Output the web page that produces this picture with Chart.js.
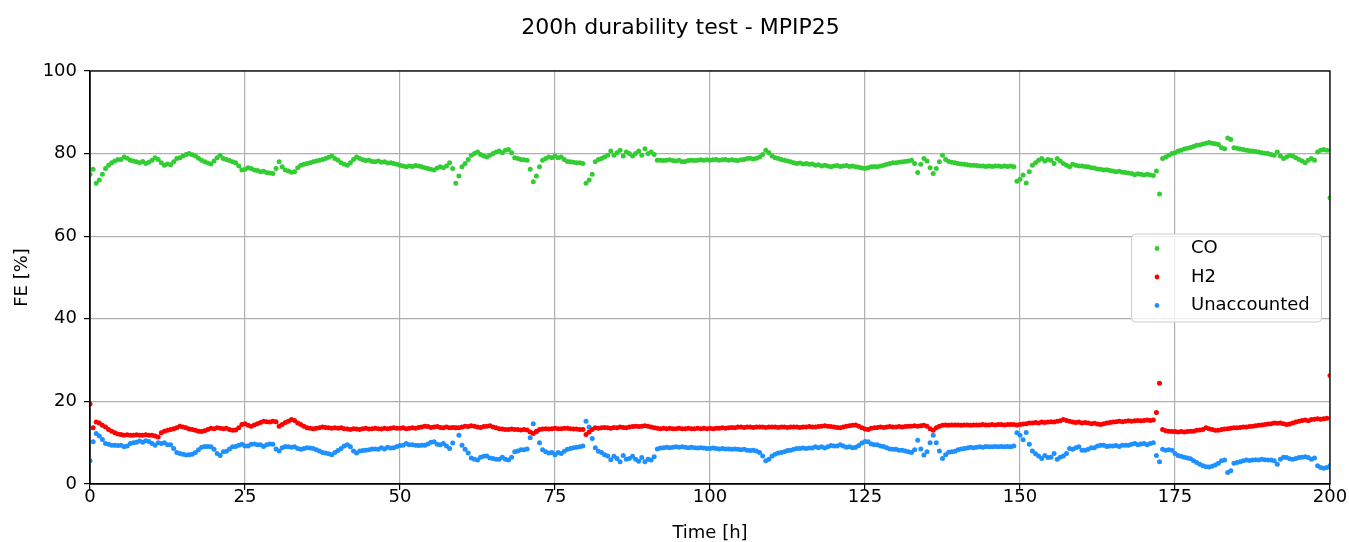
<!DOCTYPE html>
<html>
<head>
    <title>200h durability test - MPIP25</title>
    <meta charset="UTF-8">
    <script src="https://cdn.jsdelivr.net/npm/chart.js"></script>
    <style>
        html, body { margin: 0; padding: 0; background: #fff; }
    </style>
</head>
<body>
    <canvas id="feChart" width="1349" height="542"></canvas>

    <script>
        // Faradaic efficiency logged every half hour over the 200 h run
        const sampleStep = 0.5; // h

        const coValues = [
            75.0, 76.2, 72.8, 73.6, 75.0, 76.4, 77.2, 77.8, 78.2, 78.6, 78.6, 79.2, 78.9, 78.4, 78.2, 78.0, 77.8, 78.1, 77.6, 77.9,
            78.4, 79.0, 78.6, 77.8, 77.2, 77.5, 77.3, 78.0, 78.8, 79.0, 79.4, 79.8, 80.0, 79.7, 79.4, 78.9, 78.4, 78.0, 77.7, 77.5,
            78.2, 79.0, 79.6, 78.8, 78.6, 78.3, 78.0, 77.8, 77.0, 76.0, 76.2, 76.6, 76.4, 76.0, 75.9, 75.6, 75.7, 75.4, 75.3, 75.2,
            76.4, 78.0, 76.8, 76.0, 75.8, 75.5, 75.6, 76.6, 77.2, 77.4, 77.6, 77.8, 78.0, 78.2, 78.4, 78.6, 78.8, 79.1, 79.4, 78.8,
            78.4, 77.8, 77.4, 77.2, 77.8, 78.6, 79.2, 78.8, 78.5, 78.3, 78.4, 78.1, 78.0, 78.2, 77.9, 78.0, 77.7, 77.8, 77.6, 77.4,
            77.2, 77.0, 76.8, 77.0, 76.9, 77.1, 77.0, 76.8, 76.6, 76.4, 76.2, 76.0, 76.5, 76.8, 76.6, 77.0, 77.8, 76.4, 72.8, 74.6,
            76.8, 77.6, 78.6, 79.6, 80.0, 80.4, 79.8, 79.4, 79.2, 79.6, 80.0, 80.4, 80.6, 80.2, 80.8, 81.0, 80.2, 79.0, 78.8, 78.6,
            78.5, 78.4, 76.2, 73.2, 74.6, 76.8, 78.4, 78.8, 79.2, 79.0, 79.4, 79.0, 79.2, 78.6, 78.1, 78.0, 77.9, 77.8, 77.8, 77.6,
            72.8, 73.6, 75.0, 78.0, 78.6, 78.8, 79.2, 79.6, 80.6, 79.6, 80.2, 80.8, 79.4, 80.4, 80.0, 79.4, 80.0, 80.6, 79.6, 81.2,
            80.0, 80.4, 79.8, 78.4, 78.4, 78.3, 78.4, 78.5, 78.3, 78.2, 78.4, 78.0, 78.1, 78.3, 78.4, 78.3, 78.4, 78.5, 78.4, 78.5,
            78.4, 78.5, 78.6, 78.4, 78.5, 78.6, 78.4, 78.5, 78.4, 78.3, 78.5, 78.6, 78.8, 78.9, 78.7, 78.9, 79.2, 79.8, 80.8, 80.2,
            79.4, 79.0, 78.8, 78.6, 78.4, 78.2, 78.0, 77.8, 77.6, 77.7, 77.5, 77.6, 77.4, 77.5, 77.2, 77.3, 77.0, 77.2, 77.0, 76.8,
            77.0, 77.1, 76.9, 77.0, 77.1, 76.9, 77.0, 76.8, 76.7, 76.5, 76.4, 76.6, 76.8, 76.9, 76.8, 77.0, 77.2, 77.4, 77.6, 77.8,
            77.8, 77.9, 78.0, 78.1, 78.2, 78.4, 77.6, 75.4, 77.4, 78.8, 78.2, 76.6, 75.2, 76.4, 78.0, 79.6, 78.6, 78.1, 77.9, 77.8,
            77.6, 77.5, 77.4, 77.3, 77.2, 77.2, 77.1, 77.0, 77.0, 76.9, 77.0, 76.9, 77.0, 77.0, 76.9, 77.0, 76.9, 77.0, 76.8, 73.3,
            73.8, 74.8, 72.9, 75.6, 77.2, 77.8, 78.4, 78.8, 78.2, 78.6, 78.4, 77.6, 78.8, 78.2, 77.6, 77.2, 76.8, 77.4, 77.2, 77.0,
            77.0, 76.9, 76.8, 76.6, 76.5, 76.3, 76.2, 76.0, 76.1, 75.9, 75.8, 75.6, 75.7, 75.5, 75.4, 75.3, 75.2, 74.9, 75.1, 75.0,
            74.8, 75.0, 74.8, 74.7, 75.8, 70.2, 78.8, 79.2, 79.6, 80.0, 80.2, 80.6, 80.8, 81.1, 81.3, 81.5, 81.7, 82.0, 82.1, 82.3,
            82.5, 82.7, 82.5, 82.4, 82.2, 81.4, 81.2, 83.8, 83.4, 81.4, 81.3, 81.1, 81.0, 80.8, 80.7, 80.6, 80.5, 80.4, 80.2, 80.1,
            80.0, 79.8, 79.6, 80.4, 79.4, 78.8, 79.2, 79.6, 79.4, 79.0, 78.6, 78.2, 77.8, 78.4, 78.8, 78.4, 80.4, 80.8, 81.0, 80.8,
            69.3
        ];

        const h2Values = [
            19.4, 13.6, 15.0, 14.8, 14.2, 13.8, 13.2, 12.8, 12.4, 12.1, 12.0, 11.8, 11.9, 11.8, 11.8, 11.9, 11.8, 11.8, 11.9, 11.8,
            11.8, 11.6, 11.4, 12.4, 12.8, 13.0, 13.2, 13.4, 13.6, 14.0, 13.8, 13.6, 13.3, 13.2, 13.0, 12.8, 12.7, 12.9, 13.2, 13.5,
            13.4, 13.6, 13.5, 13.4, 13.5, 13.2, 13.0, 13.1, 13.6, 14.4, 14.6, 14.2, 14.0, 14.3, 14.6, 14.9, 15.2, 15.1, 15.0, 15.2,
            15.1, 14.0, 14.4, 14.9, 15.2, 15.6, 15.4, 14.8, 14.4, 14.0, 13.6, 13.5, 13.4, 13.5, 13.6, 13.8, 13.7, 13.6, 13.5, 13.6,
            13.5, 13.6, 13.4, 13.3, 13.2, 13.4, 13.3, 13.2, 13.4, 13.5, 13.3, 13.4, 13.5, 13.4, 13.3, 13.5, 13.4, 13.5, 13.6, 13.5,
            13.5, 13.6, 13.4, 13.5, 13.6, 13.5, 13.7, 13.8, 14.0, 13.9, 13.7, 13.8, 13.9, 13.7, 13.6, 13.8, 13.6, 13.7, 13.6, 13.6,
            13.8, 14.0, 13.9, 14.1, 14.0, 13.8, 13.7, 13.9, 14.0, 14.1, 13.8, 13.6, 13.4, 13.3, 13.2, 13.2, 13.3, 13.2, 13.2, 13.1,
            13.2, 13.1, 12.6, 12.2, 12.8, 13.2, 13.3, 13.4, 13.3, 13.4, 13.5, 13.4, 13.4, 13.5, 13.5, 13.4, 13.3, 13.3, 13.2, 13.2,
            12.0, 12.6, 13.2, 13.6, 13.5, 13.6, 13.7, 13.6, 13.5, 13.7, 13.6, 13.8, 13.7, 13.6, 13.8, 13.9, 14.0, 13.9, 14.0, 14.1,
            14.0, 13.8, 13.6, 13.5, 13.4, 13.5, 13.4, 13.5, 13.4, 13.4, 13.5, 13.4, 13.4, 13.5, 13.4, 13.4, 13.5, 13.4, 13.5, 13.4,
            13.5, 13.4, 13.5, 13.5, 13.6, 13.5, 13.6, 13.7, 13.6, 13.8, 13.8, 13.7, 13.8, 13.8, 13.7, 13.8, 13.8, 13.8, 13.7, 13.8,
            13.8, 13.8, 13.7, 13.8, 13.8, 13.7, 13.8, 13.8, 13.8, 13.7, 13.8, 13.8, 13.9, 13.8, 13.8, 13.9, 14.0, 14.1, 14.0, 13.9,
            13.8, 13.7, 13.6, 13.8, 14.0, 14.1, 14.2, 14.3, 14.0, 13.6, 13.3, 13.2, 13.5, 13.6, 13.7, 13.8, 13.7, 13.8, 13.9, 13.8,
            13.8, 13.9, 13.8, 13.9, 14.0, 14.0, 14.1, 14.0, 14.1, 14.2, 14.0, 13.4, 13.0, 13.6, 14.0, 14.2, 14.3, 14.2, 14.3, 14.3,
            14.3, 14.2, 14.3, 14.3, 14.2, 14.3, 14.3, 14.3, 14.4, 14.3, 14.3, 14.4, 14.3, 14.4, 14.4, 14.3, 14.4, 14.4, 14.4, 14.3,
            14.4, 14.5, 14.6, 14.8, 14.8, 14.9, 14.8, 15.0, 14.9, 15.0, 15.1, 15.0, 15.2, 15.3, 15.6, 15.4, 15.2, 15.0, 14.9, 15.0,
            14.8, 14.9, 14.8, 14.6, 14.7, 14.5, 14.4, 14.6, 14.8, 14.9, 15.0, 15.1, 15.2, 15.1, 15.2, 15.3, 15.2, 15.3, 15.4, 15.3,
            15.4, 15.5, 15.4, 15.5, 17.3, 24.4, 13.2, 12.9, 12.8, 12.7, 12.7, 12.6, 12.7, 12.6, 12.7, 12.8, 12.8, 13.0, 13.1, 13.2,
            13.6, 13.4, 13.2, 13.0, 13.0, 13.2, 13.3, 13.4, 13.5, 13.6, 13.6, 13.7, 13.8, 13.8, 13.9, 14.0, 14.1, 14.2, 14.3, 14.4,
            14.5, 14.6, 14.8, 14.7, 14.8, 14.6, 14.4, 14.5, 14.8, 15.0, 15.2, 15.4, 15.5, 15.3, 15.6, 15.7, 15.8, 15.7, 15.8, 15.9,
            26.3
        ];

        const unaccountedValues = [
            5.6, 10.2, 12.2, 11.6, 10.8, 9.8, 9.6, 9.4, 9.4, 9.3, 9.4, 9.0, 9.2, 9.8, 10.0, 10.1, 10.4, 10.1, 10.5, 10.3,
            9.8, 9.4, 10.0, 9.8, 10.0, 9.5, 9.5, 8.6, 7.6, 7.4, 7.2, 7.0, 7.1, 7.2, 7.6, 8.3, 8.9, 9.1, 9.1, 9.0,
            8.4, 7.4, 6.9, 7.8, 7.9, 8.5, 9.0, 9.1, 9.4, 9.6, 9.2, 9.2, 9.6, 9.7, 9.5, 9.5, 9.1, 9.5, 9.7, 9.6,
            8.5, 8.0, 8.8, 9.1, 9.0, 8.9, 9.0, 8.6, 8.4, 8.6, 8.8, 8.7, 8.6, 8.3, 8.0, 7.6, 7.5, 7.3, 7.1, 7.6,
            8.1, 8.6, 9.2, 9.5, 9.0, 8.0, 7.5, 8.0, 8.1, 8.2, 8.3, 8.5, 8.5, 8.4, 8.8, 8.5, 8.9, 8.7, 8.8, 9.1,
            9.3, 9.4, 9.8, 9.5, 9.5, 9.4, 9.3, 9.4, 9.4, 9.7, 10.1, 10.2, 9.6, 9.5, 9.8, 9.2, 8.6, 9.9, 13.6, 11.8,
            9.4, 8.4, 7.5, 6.3, 6.0, 5.8, 6.5, 6.7, 6.8, 6.3, 6.2, 6.0, 6.0, 6.5, 6.0, 5.8, 6.5, 7.8, 8.0, 8.3,
            8.3, 8.5, 11.2, 14.6, 12.6, 10.0, 8.3, 7.8, 7.5, 7.6, 7.1, 7.6, 7.4, 7.9, 8.4, 8.6, 8.8, 8.9, 9.0, 9.2,
            15.2, 13.8, 11.0, 8.8, 7.9, 7.6, 7.1, 6.8, 5.9, 6.7, 6.2, 5.4, 6.9, 6.0, 6.2, 6.7, 6.0, 5.5, 6.4, 5.4,
            6.0, 5.8, 6.6, 8.5, 8.7, 8.8, 8.9, 8.8, 8.9, 9.0, 8.9, 9.0, 8.9, 8.8, 8.9, 8.8, 8.7, 8.8, 8.7, 8.6,
            8.6, 8.7, 8.6, 8.5, 8.6, 8.5, 8.5, 8.4, 8.5, 8.4, 8.3, 8.4, 8.2, 8.1, 8.2, 8.0, 7.6, 6.8, 5.6, 6.0,
            6.8, 7.2, 7.5, 7.6, 7.8, 8.1, 8.2, 8.4, 8.6, 8.6, 8.7, 8.6, 8.7, 8.7, 9.0, 8.8, 9.0, 8.7, 9.0, 9.3,
            9.2, 9.2, 9.5, 9.2, 8.9, 9.0, 8.8, 8.9, 9.3, 9.9, 10.3, 10.2, 9.7, 9.5, 9.5, 9.2, 9.1, 8.8, 8.5, 8.4,
            8.4, 8.2, 8.2, 8.0, 7.8, 7.6, 8.3, 10.6, 8.5, 7.0, 7.8, 10.0, 11.8, 10.0, 8.0, 6.2, 7.1, 7.7, 7.8, 7.9,
            8.3, 8.5, 8.6, 8.7, 8.9, 8.8, 8.9, 9.0, 8.9, 9.1, 9.0, 9.0, 9.1, 9.0, 9.1, 9.0, 9.1, 9.0, 9.2, 12.4,
            11.8, 10.7, 12.5, 9.6, 8.0, 7.3, 6.8, 6.2, 6.9, 6.4, 6.5, 7.4, 6.0, 6.5, 6.8, 7.4, 8.6, 8.4, 8.8, 9.0,
            8.2, 8.2, 8.4, 8.8, 8.8, 9.2, 9.4, 9.4, 9.1, 9.2, 9.2, 9.3, 9.1, 9.4, 9.4, 9.4, 9.6, 9.8, 9.5, 9.7,
            9.8, 9.5, 9.8, 10.0, 6.9, 5.4, 8.4, 8.2, 8.3, 8.2, 7.4, 6.9, 6.7, 6.5, 6.3, 6.1, 5.6, 5.2, 4.8, 4.4,
            4.2, 4.1, 4.3, 4.6, 5.0, 5.6, 5.8, 2.8, 3.2, 5.0, 5.2, 5.4, 5.6, 5.8, 5.7, 5.8, 5.9, 5.8, 6.0, 5.9,
            5.8, 5.8, 5.6, 4.8, 6.0, 6.5, 6.4, 6.1, 6.0, 6.2, 6.4, 6.5, 6.6, 6.4, 6.0, 6.3, 4.4, 4.0, 3.8, 4.0,
            4.4
        ];

        const seriesLabels = ['CO', 'H2', 'Unaccounted'];
        const seriesColors = ['#32cd32', '#ff0000', '#1e90ff'];
        const xTicks = [0, 25, 50, 75, 100, 125, 150, 175, 200];
        const yTicks = [0, 20, 40, 60, 80, 100];

        const toPoints = values => values.map((v, i) => ({ x: i * sampleStep, y: v }));

        Chart.defaults.font.family = 'DejaVu Sans';
        Chart.defaults.color = '#000';

        // suptitle, closed axes frame and the boxed legend inside the plot
        const decorations = {
            id: 'decorations',
            afterDraw(chart) {
                const ctx = chart.ctx;
                const a = chart.chartArea;
                ctx.save();

                ctx.fillStyle = '#000';
                ctx.font = '22px "DejaVu Sans"';
                ctx.textAlign = 'center';
                ctx.textBaseline = 'middle';
                ctx.fillText('200h durability test - MPIP25', chart.width / 2 + 6, 28);

                ctx.strokeStyle = '#000';
                ctx.lineWidth = 1.3;
                ctx.strokeRect(a.left, a.top, a.right - a.left, a.bottom - a.top);

                const boxW = 190, boxH = 88;
                const bx = a.right - 9 - boxW;
                const by = (a.top + a.bottom) / 2 - boxH / 2;
                ctx.fillStyle = 'rgba(255,255,255,0.8)';
                ctx.strokeStyle = '#cccccc';
                ctx.lineWidth = 1;
                ctx.beginPath();
                ctx.roundRect(bx + 0.5, by + 0.5, boxW, boxH, 4);
                ctx.fill();
                ctx.stroke();

                ctx.font = '18px "DejaVu Sans"';
                ctx.textAlign = 'left';
                chart.data.datasets.forEach((ds, i) => {
                    const rowY = by + 15 + i * 28.5;
                    ctx.fillStyle = ds.backgroundColor;
                    ctx.beginPath();
                    ctx.arc(bx + 26, rowY, 2.4, 0, Math.PI * 2);
                    ctx.fill();
                    ctx.fillStyle = '#000';
                    ctx.fillText(ds.label, bx + 60, rowY);
                });
                ctx.restore();
            }
        };

        const datasets = [coValues, h2Values, unaccountedValues].map((values, i) => ({
            label: seriesLabels[i],
            data: toPoints(values),
            backgroundColor: seriesColors[i],
            borderWidth: 0,
            pointRadius: 2.5,
            pointHoverRadius: 2.5
        }));

        new Chart(document.getElementById('feChart'), {
            type: 'scatter',
            data: { datasets: datasets },
            options: {
                responsive: false,
                animation: false,
                layout: { padding: { top: 71, right: 19, left: 0, bottom: 0 } },
                plugins: {
                    legend: { display: false },
                    tooltip: { enabled: false }
                },
                scales: {
                    x: {
                        type: 'linear',
                        min: 0,
                        max: 200,
                        afterFit: scale => { scale.height = 58; },
                        afterBuildTicks: scale => { scale.ticks = xTicks.map(v => ({ value: v })); },
                        ticks: { font: { size: 18 }, padding: -3, maxRotation: 0 },
                        grid: { color: '#b0b0b0', lineWidth: 1.2, tickColor: '#000', tickLength: 6, tickWidth: 1.2 },
                        border: { color: '#000', width: 1.3 },
                        title: { display: true, text: 'Time [h]', font: { size: 18, lineHeight: 1 }, padding: { top: 0, bottom: 0 } }
                    },
                    y: {
                        min: 0,
                        max: 100,
                        afterFit: scale => { scale.width = 90; },
                        afterBuildTicks: scale => { scale.ticks = yTicks.map(v => ({ value: v })); },
                        ticks: { font: { size: 18 }, padding: 7 },
                        grid: { color: '#b0b0b0', lineWidth: 1.2, tickColor: '#000', tickLength: 6, tickWidth: 1.2 },
                        border: { color: '#000', width: 1.3 },
                        title: { display: true, text: 'FE [%]', font: { size: 18, lineHeight: 1 }, padding: { top: 13, bottom: 0 } }
                    }
                }
            },
            plugins: [decorations]
        });
    </script>
</body>
</html>
